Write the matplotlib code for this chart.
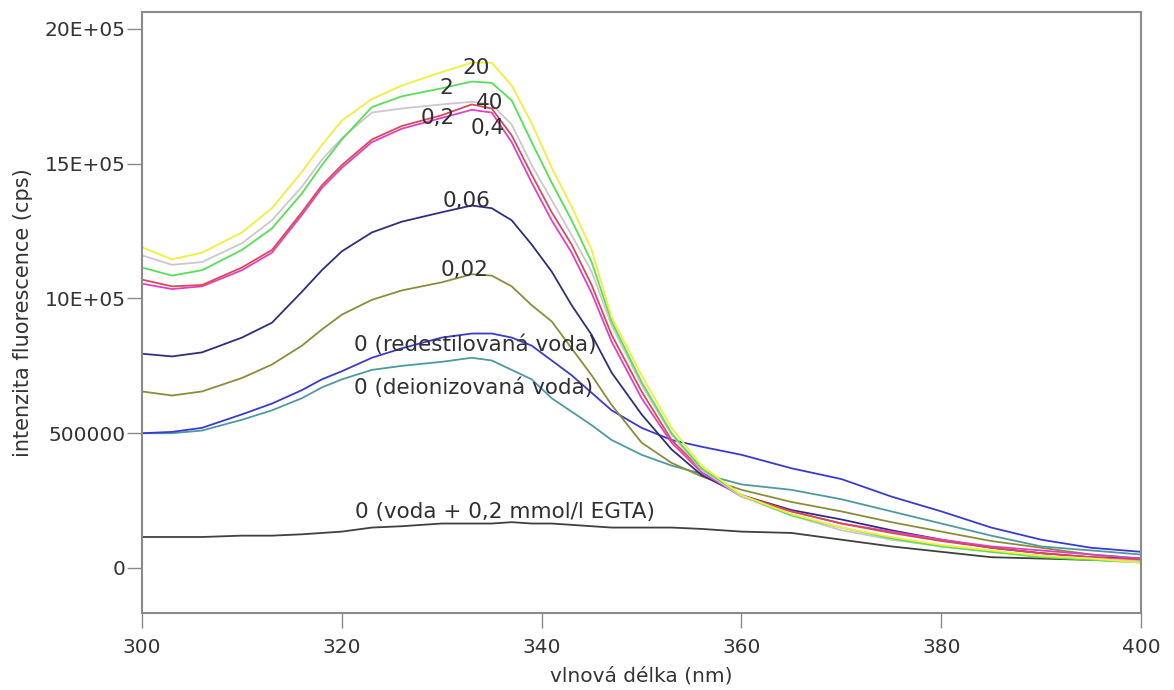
import matplotlib
matplotlib.use("Agg")
import matplotlib.pyplot as plt
from matplotlib.ticker import FixedLocator, FixedFormatter

# wavelength grid (nm)
wavelength = [300, 303, 306, 310, 313, 316, 318, 320, 323, 326, 330, 333, 335, 337, 339, 341,
              343, 345, 347, 350, 353, 356, 360, 365, 370, 375, 380, 385, 390, 395, 400]

# fluorescence intensity in thousands of cps
c_20 = [1190, 1145, 1170, 1245, 1335, 1470, 1570, 1660, 1740, 1790, 1840, 1875, 1875, 1790, 1650, 1485,
        1340, 1180, 930, 715, 520, 380, 270, 200, 150, 115, 85, 65, 45, 35, 20]
c_2 = [1115, 1085, 1105, 1180, 1260, 1390, 1495, 1590, 1710, 1750, 1780, 1805, 1800, 1735, 1580, 1430,
       1290, 1135, 915, 690, 500, 370, 270, 195, 150, 110, 80, 60, 40, 30, 20]
c_02 = [1160, 1125, 1135, 1205, 1290, 1415, 1515, 1595, 1690, 1705, 1720, 1730, 1720, 1645, 1495, 1365,
        1235, 1100, 900, 680, 495, 365, 265, 195, 140, 105, 80, 60, 45, 35, 25]
c_40 = [1070, 1045, 1050, 1115, 1180, 1320, 1420, 1495, 1590, 1640, 1680, 1720, 1705, 1605, 1460, 1320,
        1200, 1050, 865, 655, 475, 365, 270, 210, 165, 130, 100, 75, 55, 40, 30]
c_04 = [1055, 1035, 1045, 1105, 1170, 1310, 1410, 1485, 1580, 1630, 1670, 1700, 1690, 1580, 1430, 1290,
        1170, 1020, 840, 630, 465, 355, 265, 210, 165, 135, 105, 80, 65, 50, 35]
c_006 = [795, 785, 800, 855, 910, 1025, 1105, 1175, 1245, 1285, 1320, 1345, 1335, 1290, 1200, 1100,
         975, 865, 725, 570, 440, 345, 270, 215, 180, 140, 105, 75, 55, 40, 35]
c_002 = [655, 640, 655, 705, 755, 825, 885, 940, 995, 1030, 1060, 1090, 1085, 1045, 975, 915,
         815, 715, 605, 465, 390, 340, 290, 245, 210, 170, 135, 100, 75, 50, 35]
c_redest = [500, 505, 520, 570, 610, 660, 700, 730, 780, 815, 855, 870, 870, 855, 825, 770,
            715, 650, 585, 520, 475, 450, 420, 370, 330, 265, 210, 150, 105, 75, 60]
c_deion = [500, 500, 510, 550, 585, 630, 670, 700, 735, 750, 765, 780, 770, 735, 700, 630,
           580, 530, 475, 420, 380, 350, 310, 290, 255, 210, 165, 120, 80, 65, 50]
c_egta = [115, 115, 115, 120, 120, 125, 130, 135, 150, 155, 165, 165, 165, 170, 165, 165,
          160, 155, 150, 150, 150, 145, 135, 130, 105, 80, 60, 40, 35, 30, 25]

series = [c_deion, c_redest, c_egta, c_002, c_006, c_04, c_40, c_02, c_2, c_20]
colors = ['#4d9aa0', '#3a3ad0', '#404040', '#8c8c3a', '#2e2e80', '#e040c8', '#d84a55',
          '#cdc6cf', '#55e055', '#f2ee3a']

labels = ['20', '2', '40', '0,2', '0,4', '0,06', '0,02',
          '0 (redestilovaná voda)', '0 (deionizovaná voda)', '0 (voda + 0,2 mmol/l EGTA)']
label_x = [333.4, 330.4, 334.8, 329.6, 334.6, 332.5, 332.3, 321.2, 321.2, 321.3]
label_y = [1855, 1781, 1725, 1670, 1633, 1362, 1106, 827, 668, 208]
label_ha = ['center'] * 7 + ['left'] * 3

yticks = [0, 500000, 1000000, 1500000, 2000000]
ytick_labels = ['0', '500000', '10E+05', '15E+05', '20E+05']
xticks = [300, 320, 340, 360, 380, 400]

fig = plt.figure(figsize=(11.74, 6.9), dpi=100)
ax = fig.add_axes([0.121, 0.1116, 0.851, 0.871])

for vals, col in zip(series, colors):
    ax.plot(wavelength, [v * 1000 for v in vals], color=col, lw=1.3)

for txt, x, y, ha in zip(labels, label_x, label_y, label_ha):
    ax.text(x, y * 1000, txt, ha=ha, va='center', fontsize=15.5, color='#303030')

ax.set_xlim(300, 400)
ax.set_ylim(-167000, 2063000)
ax.xaxis.set_major_locator(FixedLocator(xticks))
ax.yaxis.set_major_locator(FixedLocator(yticks))
ax.yaxis.set_major_formatter(FixedFormatter(ytick_labels))

for s in ax.spines.values():
    s.set_color('#8a8a8a')
    s.set_linewidth(1.5)
ax.tick_params(axis='x', length=11, width=1, color='#8a8a8a', pad=7, labelsize=14.5, labelcolor='#333333')
ax.tick_params(axis='y', length=11, width=1, color='#8a8a8a', pad=1, labelsize=14.5, labelcolor='#333333')

ax.set_xlabel('vlnová délka (nm)', fontsize=14.5, color='#333333', labelpad=7)
ax.set_ylabel('intenzita fluorescence (cps)', fontsize=15, color='#333333', labelpad=8)

fig.savefig('out.png', dpi=100)
